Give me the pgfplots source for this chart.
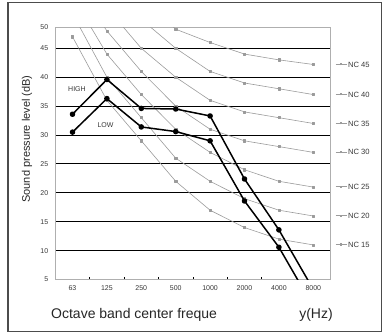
\documentclass[border=0pt]{standalone}
\usepackage{pgfplots}
\pgfplotsset{compat=1.18}
\usepackage{fontspec}
\setmainfont{Liberation Sans}
\definecolor{ncgray}{RGB}{155,155,155}
\definecolor{bordergray}{RGB}{175,175,175}
\definecolor{txt}{RGB}{55,55,55}
\newcommand{\nckey}{{\color{ncgray}\rule[2.6pt]{4.5pt}{0.6pt}\rule[1.7pt]{2.4pt}{2.4pt}\rule[2.6pt]{4.5pt}{0.6pt}}\hspace{1.2pt}}
\begin{document}
\begin{tikzpicture}[x=1pt,y=1pt]
\useasboundingbox (0,0) rectangle (382,333);
\draw[black!70, line width=1.2pt] (8,1.6) rectangle (381.3,330.3);
\begin{axis}[
  at={(55.3pt,53.4pt)}, anchor=south west,
  width=275.2pt, height=252.3pt, scale only axis,
  xmin=-0.5, xmax=7.5, ymin=5, ymax=48.63,
  axis line style={bordergray, line width=1.3pt},
  clip marker paths=true,
  xtick={0.5,1.5,2.5,3.5,4.5,5.5,6.5}, xticklabels={},
  xtick pos=bottom, ytick pos=left,
  major tick length=2.2pt, tick align=inside,
  xtick style={black, line width=0.8pt},
  extra x ticks={0,1,2,3,4,5,6,7},
  extra x tick labels={63,125,250,500,1000,2000,4000,8000},
  extra x tick style={major tick length=0pt, grid=none},
  ytick={10,15,20,25,30,35,40,45},
  yticklabels={10,15,20,25,30,35,40,45},
  extra y ticks={5,48.63}, extra y tick labels={5,50},
  extra y tick style={grid=none},
  ytick style={draw=none},
  ymajorgrids, grid style={black, line width=0.9pt},
  ticklabel style={font=\fontsize{7}{8}\selectfont, text=txt},
  yticklabel style={xshift=-3.5pt},
  xticklabel style={yshift=-2.5pt},
  /pgf/number format/assume math mode=true,
  every axis plot/.append style={line join=round},
]
% NC curves
\addplot[ncgray, line width=0.6pt, mark=square*, mark size=1.1pt] coordinates {(0,47)(1,36)(2,29)(3,22)(4,17)(5,14)(6,12)(7,11)};
\addplot[ncgray, line width=0.6pt, mark=square*, mark size=1.1pt] coordinates {(0,51)(1,40)(2,33)(3,26)(4,22)(5,19)(6,17)(7,16)};
\addplot[ncgray, line width=0.6pt, mark=square*, mark size=1.1pt] coordinates {(0,54)(1,44)(2,37)(3,31)(4,27)(5,24)(6,22)(7,21)};
\addplot[ncgray, line width=0.6pt, mark=square*, mark size=1.1pt] coordinates {(0,57)(1,48)(2,41)(3,35)(4,31)(5,29)(6,28)(7,27)};
\addplot[ncgray, line width=0.6pt, mark=square*, mark size=1.1pt] coordinates {(0,60)(1,52)(2,45)(3,40)(4,36)(5,34)(6,33)(7,32)};
\addplot[ncgray, line width=0.6pt, mark=square*, mark size=1.1pt] coordinates {(0,64)(1,56)(2,50)(3,45)(4,41)(5,39)(6,38)(7,37)};
\addplot[ncgray, line width=0.6pt, mark=square*, mark size=1.1pt] coordinates {(0,67)(1,60)(2,54)(3,48.3)(4,46)(5,44)(6,43)(7,42.2)};
% measured spectra
\addplot[black, line width=1.5pt, mark=*, mark size=2pt] coordinates {(0,33.6)(1,39.6)(2,34.6)(3,34.5)(4,33.3)(5,22.4)(6,13.6)(7,3.3)};
\addplot[black, line width=1.5pt, mark=*, mark size=2pt] coordinates {(0,30.5)(1,36.3)(2,31.4)(3,30.6)(4,29.0)(5,18.6)(6,10.6)(7,0.3)};
\node[font=\fontsize{7}{8}\selectfont, text=txt] at (axis cs:0.13,38.0) {HIGH};
\node[font=\fontsize{7}{8}\selectfont, text=txt] at (axis cs:0.96,31.7) {LOW};
\coordinate (n15) at (axis cs:7,11);
\coordinate (n20) at (axis cs:7,16);
\coordinate (n25) at (axis cs:7,21);
\coordinate (n30) at (axis cs:7,27);
\coordinate (n35) at (axis cs:7,32);
\coordinate (n40) at (axis cs:7,37);
\coordinate (n45) at (axis cs:7,42.2);
\end{axis}
\foreach \c/\t in {n15/15,n20/20,n25/25,n30/30,n35/35,n40/40,n45/45}{
  \node[anchor=west, inner sep=0pt, font=\fontsize{7.6}{8}\selectfont, text=txt] at ([xshift=22pt]\c) {\nckey NC \t};
}
\node[rotate=90, font=\fontsize{11}{12}\selectfont, text=black!85] at (27,194) {Sound pressure level (dB)};
\node[anchor=west, inner sep=0pt, font=\fontsize{14}{15}\selectfont, text=black!85] at (51,18) {Octave band center freque};
\node[inner sep=0pt, font=\fontsize{14}{15}\selectfont, text=black!85] at (316,18) {y(Hz)};
\end{tikzpicture}
\end{document}
